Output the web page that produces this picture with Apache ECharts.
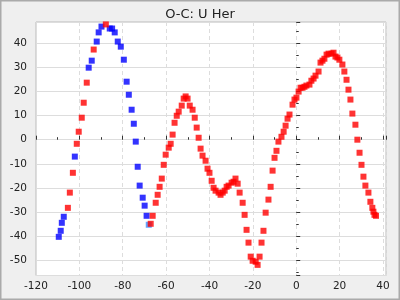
<!DOCTYPE html>
<html>
<head>
<meta charset="utf-8">
<script src="https://cdn.jsdelivr.net/npm/echarts@6/dist/echarts.min.js"></script>
<style>
html,body{margin:0;padding:0;background:#efefef;}
#chart{width:400px;height:300px;}
</style>
</head>
<body>
<div id="chart"></div>
<script>
const titleText = "O-C: U Her";

const blueX = [-109.5,-108.6,-108.1,-107.2,-102.1,-95.7,-94.3,-92.0,-91.1,-89.8,-86.0,-84.9,-83.7,-82.3,-80.9,-79.5,-78.2,-77.2,-75.9,-74.9,-74.0,-73.1,-72.2,-70.8,-69.9,-69.0];
const blueY = [-40.2,-37.7,-34.4,-31.9,-7.0,29.8,32.7,40.6,44.4,46.8,46.0,46.0,44.4,40.6,38.5,33.1,24.0,18.6,12.4,6.6,-0.8,-11.2,-19.0,-24.0,-27.3,-31.5];

const lightX = [-68.0];
const lightY = [-35.2];

const redX = [-105.3,-104.4,-103.0,-101.2,-100.3,-98.9,-98.0,-96.6,-93.4,-87.8,
  -67.1,-66.2,-64.8,-63.9,-63.0,-62.0,-61.1,-60.2,-58.8,-57.9,-57.0,-56.1,-55.1,-54.2,-52.8,-51.9,-51.0,-50.1,-49.1,-47.8,-46.8,-45.9,-45.0,-44.1,-43.2,-41.8,-40.9,-40.0,-39.0,-38.1,-37.2,-35.8,-34.9,-33.9,-33.0,-32.1,-31.2,-29.8,-28.9,-28.0,-27.0,-26.1,-24.7,-23.8,-22.9,-22.0,-21.0,-20.1,-18.7,-17.8,-16.9,-16.0,-15.1,-14.1,-12.8,-11.8,-10.9,-10.0,-9.1,-8.2,-6.8,-5.8,-4.9,-4.0,-3.1,-1.7,-0.8,0.1,1.1,2.0,2.9,3.8,4.7,6.1,7.0,8.0,8.9,10.3,11.2,12.1,13.0,14.0,14.9,16.3,17.2,18.1,19.0,19.9,21.3,22.2,23.2,24.1,25.0,25.9,27.3,28.2,29.2,30.1,31.0,31.9,33.3,34.2,35.1,35.6,36.1,36.8];
const redY = [-28.2,-21.9,-13.7,-1.7,3.3,9.1,15.3,23.6,37.3,47.7,
  -34.8,-31.5,-26.1,-22.8,-19.5,-16.1,-10.4,-6.2,-3.3,-1.7,2.1,7.0,9.9,11.6,14.1,17.0,17.9,17.0,14.1,12.4,9.1,5.0,0.8,-3.7,-6.6,-8.7,-12.0,-13.7,-17.0,-19.9,-21.1,-21.9,-22.8,-21.9,-21.1,-19.5,-19.0,-17.8,-17.4,-16.1,-18.2,-21.9,-26.1,-31.1,-37.3,-42.6,-48.4,-50.1,-50.5,-51.8,-48.4,-42.6,-37.7,-30.2,-24.8,-19.5,-12.8,-7.5,-4.6,-0.8,1.2,3.3,5.8,8.7,10.4,14.5,16.6,17.4,19.9,21.5,21.5,21.9,22.4,22.8,24.4,25.3,26.5,28.2,31.9,32.7,33.5,35.2,35.6,35.6,36.0,34.4,34.0,33.1,31.1,28.2,24.8,20.7,16.6,10.8,6.2,0.0,-5.4,-10.4,-15.3,-19.0,-21.9,-25.7,-28.2,-29.8,-31.1,-31.5];

const xTicks = [-120,-100,-80,-60,-40,-20,0,20,40];
const yTicks = [-50,-40,-30,-20,-10,0,10,20,30,40];

function zip(xs, ys){ return xs.map((x,i)=>[x, ys[i]]); }

const chart = echarts.init(document.getElementById('chart'), null, {renderer:'canvas'});
const font = 'DejaVu Sans';
chart.setOption({
  backgroundColor: '#efefef',
  animation: false,
  title: {
    text: titleText, left: 'center', top: 3,
    textStyle: {fontFamily: font, fontSize: 13, fontWeight: 'normal', color: '#222'}
  },
  graphic: [{
    type: 'rect', silent: true, z: 100,
    shape: {x: 0.5, y: 0.5, width: 399, height: 299},
    style: {fill: 'none', stroke: '#aaaaaa', lineWidth: 2}
  }],
  grid: {
    left: 36, right: 14, top: 22, bottom: 24.5,
    show: true, backgroundColor: '#ffffff', borderColor: '#bbbbbb', borderWidth: 1,
    containLabel: false
  },
  xAxis: {
    type: 'value', min: -120, max: 41.4, interval: 20,
    axisLine: {show: false},
    axisTick: {show: true, inside: true, length: 4, lineStyle: {color: '#333'}},
    minorTick: {show: true, splitNumber: 2, length: 2.5, lineStyle: {color: '#333'}},
    splitLine: {show: true, lineStyle: {color: '#dddddd', type: [4,3], width: 1}},
    axisLabel: {
      fontFamily: font, fontSize: 10.5, color: '#222', margin: 5, showMaxLabel: false,
      formatter: v => xTicks.includes(Math.round(v*1000)/1000) ? String(v) : ''
    }
  },
  yAxis: {
    type: 'value', min: -56.2, max: 48.7, splitNumber: 10,
    axisLine: {show: false},
    axisTick: {show: true, inside: true, length: 4, lineStyle: {color: '#333'}},
    minorTick: {show: true, splitNumber: 2, length: 2.5, lineStyle: {color: '#333'}},
    splitLine: {show: true, lineStyle: {color: '#dddddd', width: 1}},
    axisLabel: {
      fontFamily: font, fontSize: 10.5, color: '#222', margin: 9,
      showMinLabel: false, showMaxLabel: false,
      formatter: v => yTicks.includes(Math.round(v*1000)/1000) ? String(v) : ''
    }
  },
  series: [
    {type: 'scatter', name: 'blue', data: zip(blueX, blueY), symbol: 'rect', symbolSize: 6,
     itemStyle: {color: '#0000ff'}, z: 2},
    {type: 'scatter', name: 'light', data: zip(lightX, lightY), symbol: 'rect', symbolSize: 6,
     itemStyle: {color: '#3b8cff'}, z: 2},
    {type: 'scatter', name: 'red', data: zip(redX, redY), symbol: 'rect', symbolSize: 6,
     itemStyle: {color: '#ff0000'}, z: 3}
  ]
});
</script>
</body>
</html>
